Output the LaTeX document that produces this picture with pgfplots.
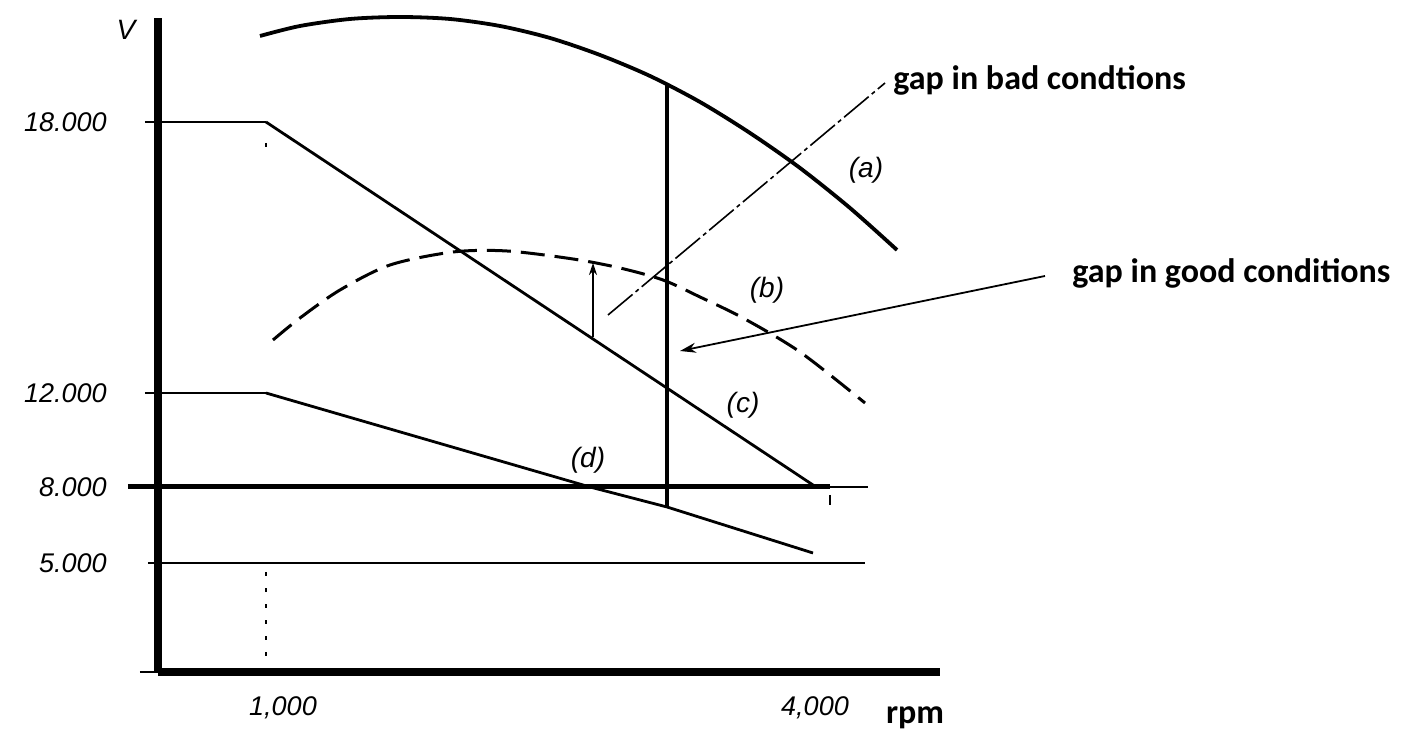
\documentclass[border=0pt]{standalone}
\usepackage{pgfplots}
\pgfplotsset{compat=1.18}
\usepackage{fontspec}
\setmainfont{Liberation Sans}
\newfontfamily\calfont{Carlito}
\usetikzlibrary{arrows.meta}
\begin{document}
\begin{tikzpicture}
\begin{axis}[
  scale only axis, width=391pt, height=327pt,
  xmin=158, xmax=940, ymin=76, ymax=730,
  axis lines=left,
  axis line style={-, line width=4pt},
  clip=false,
  xtick={283,815}, xticklabels={{1,000},{4,000}},
  ytick={185,261,355,626}, yticklabels={5.000,8.000,12.000,18.000},
  x tick label style={font=\itshape\fontsize{13.5}{15}\selectfont, yshift=-6.5pt},
  y tick label style={font=\itshape\fontsize{13.5}{15}\selectfont, anchor=east, xshift=-20pt},
  major tick style={draw=none},
]
% bounding box of the whole picture
\path (axis cs:0,0) rectangle (axis cs:1428,748);
% tick marks on the V axis
\addplot[black, line width=1pt] coordinates {(145,626) (158,626)};
\addplot[black, line width=1pt] coordinates {(145,355) (158,355)};
\addplot[black, line width=1pt] coordinates {(148,185) (158,185)};
\addplot[black, line width=1pt] coordinates {(140,76) (158,76)};
% (a) solid curve
\addplot[black, line width=1.9pt, smooth] coordinates {
 (260,712) (300,722) (350,729) (400,731) (450,729) (500,722) (550,710)
 (600,693) (650,672) (700,646) (750,615) (800,580) (850,540) (897,498)};
% (b) dashed curve
\addplot[black, line width=1.5pt, smooth, dash pattern=on 12pt off 5pt] coordinates {
 (273,408) (300,430) (340,458) (390,483) (453,496) (507,497) (573,489)
 (620,480) (663,468) (700,451) (743,430) (800,396) (865,345)};
% (c)
\addplot[black, line width=0.8pt] coordinates {(158,626) (266,626)};
\addplot[black, line width=1.4pt] coordinates {(266,626) (816,261)};
% (d)
\addplot[black, line width=0.8pt] coordinates {(158,355) (266,355)};
\addplot[black, line width=1.4pt] coordinates {(266,355) (590,261) (667,241) (813,195)};
% 8000 line
\addplot[black, line width=2.5pt] coordinates {(128,261) (830,261)};
\addplot[black, line width=0.7pt] coordinates {(830,261) (868,261)};
\addplot[black, line width=0.7pt] coordinates {(830,253) (830,243)};
% 5000 line
\addplot[black, line width=0.9pt] coordinates {(158,185) (865,185)};
% dotted 1000 guide
\addplot[black, line width=1pt, dash pattern=on 2pt off 6pt] coordinates {(266,76) (266,185)};
\addplot[black, line width=1pt] coordinates {(266,605) (266,601)};
% gap lines
\addplot[black, line width=1.7pt] coordinates {(667,241) (667,663)};
\addplot[black, line width=0.9pt, -{Stealth[length=6pt,width=4pt]}] coordinates {(593,411) (593,485)};
% annotation pointers
\addplot[black, line width=0.8pt, dash pattern=on 16pt off 2pt on 2pt off 2pt] coordinates {(608,433) (885,665)};
\addplot[black, line width=0.9pt, -{Stealth[length=8pt,width=5pt]}] coordinates {(1045,472) (680,397)};
% texts
\node[anchor=west, inner sep=0pt, font=\calfont\bfseries\fontsize{17}{20}\selectfont] at (axis cs:893,668) {gap in bad condtions};
\node[anchor=west, inner sep=0pt, font=\calfont\bfseries\fontsize{17}{20}\selectfont] at (axis cs:1072,475) {gap in good conditions};
\node[inner sep=0pt, font=\calfont\bfseries\fontsize{17}{20}\selectfont] at (axis cs:915,30) {rpm};
\node[inner sep=0pt, font=\itshape\fontsize{14}{16}\selectfont] at (axis cs:126,718) {V};
\node[inner sep=0pt, font=\itshape\fontsize{14}{16}\selectfont] at (axis cs:866,578) {(a)};
\node[inner sep=0pt, font=\itshape\fontsize{14}{16}\selectfont] at (axis cs:767,458) {(b)};
\node[inner sep=0pt, font=\itshape\fontsize{14}{16}\selectfont] at (axis cs:743,343) {(c)};
\node[inner sep=0pt, font=\itshape\fontsize{14}{16}\selectfont] at (axis cs:588,288) {(d)};
\end{axis}
\end{tikzpicture}
\end{document}
